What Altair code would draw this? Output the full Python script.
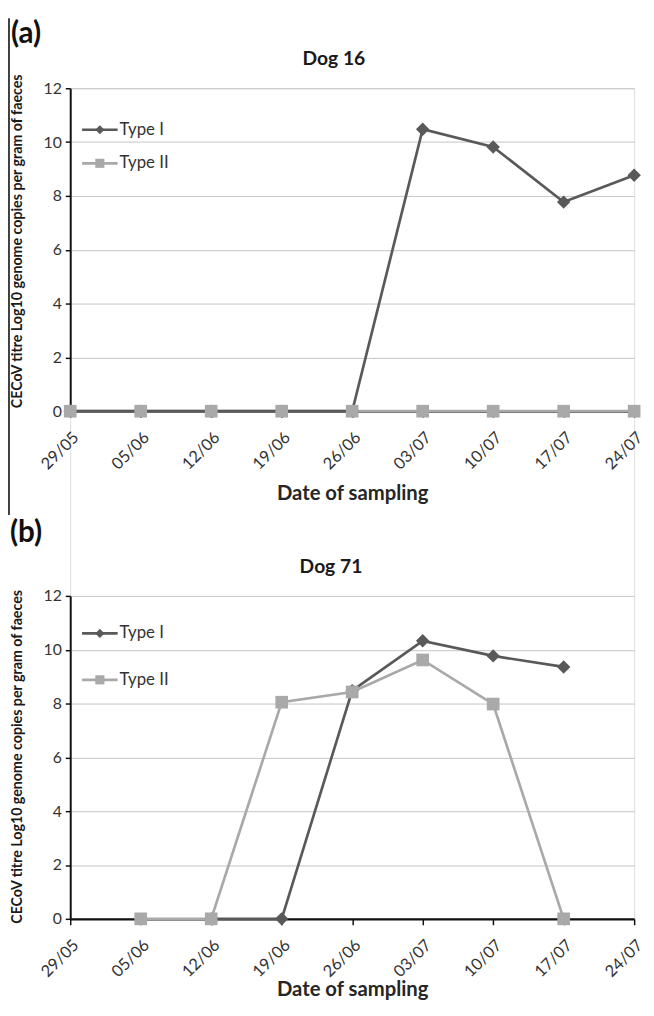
import altair as alt
import pandas as pd

# ---- data ----
dates = ["29/05", "05/06", "12/06", "19/06", "26/06", "03/07", "10/07", "17/07", "24/07"]
series_names = ["Type I", "Type II"]
y_ticks = [0, 2, 4, 6, 8, 10, 12]
panel_labels = ["(a)", "(b)"]
panel_titles = ["Dog 16", "Dog 71"]
y_title = "CECoV titre Log10 genome copies per gram of faeces"
x_title = "Date of sampling"

dog16_type1 = [0, 0, 0, 0, 0, 10.48, 9.82, 7.77, 8.77]
dog16_type2 = [0, 0, 0, 0, 0, 0, 0, 0, 0]
dog71_type1 = [None, None, 0, 0, 8.48, 10.33, 9.77, 9.36, None]
dog71_type2 = [None, 0, 0, 8.05, 8.43, 9.62, 7.98, 0, None]

# ---- styles / layout (pixels) ----
FONT = "Lato"
COL = {"Type I": "#595959", "Type II": "#a9a9a9"}
SHAPE = {"Type I": "diamond", "Type II": "square"}
SIZE = {"Type I": 185, "Type II": 165}
LEG_SIZE = {"Type I": 85, "Type II": 85}
W = 571          # plot width
PH = 327         # height of one panel's plot area
GAP = 187        # distance between the two plot areas
TOTAL_H = 2 * PH + GAP


def frame(values, name):
    rows = [{"date": d, "value": v, "series": name} for d, v in zip(dates, values) if v is not None]
    return pd.DataFrame(rows)


def text_layer(value, x, y, **style):
    return alt.Chart(pd.DataFrame({"t": [value]})).mark_text(font=FONT, **style).encode(
        x=alt.value(x), y=alt.value(y), text="t:N"
    )


def panel(idx, t1, t2, line_order, top, legend_y, label_xy, title_xy, ytitle_y, xtitle_y, border):
    data = {"Type I": frame(t1, "Type I"), "Type II": frame(t2, "Type II")}
    xe = alt.X(
        "date:O",
        scale=alt.Scale(type="point", domain=dates, padding=0),
        sort=dates,
        axis=alt.Axis(
            orient="bottom", offset=-(TOTAL_H - top - PH),
            title=x_title, labelAngle=315, labelFont=FONT, labelFontSize=16.5,
            labelColor="#333333", labelPadding=12, domainColor="#111111", domainWidth=2.2,
            tickColor="#111111", tickSize=6, tickWidth=1.5, grid=False,
            titleFont=FONT, titleFontSize=20.5, titleFontWeight="bold", titleColor="#262626",
            titleY=xtitle_y, titleBaseline="middle",
        ),
    )
    ye = alt.Y(
        "value:Q",
        scale=alt.Scale(domain=[0, 12], nice=False, zero=True, range=[top + PH, top]),
        axis=alt.Axis(
            orient="left", values=y_ticks, title=None,
            labelFont=FONT, labelFontSize=16, labelColor="#333333", labelPadding=4,
            domainColor="#111111", domainWidth=2, tickColor="#111111", tickSize=5,
            tickWidth=1.5, grid=True, gridColor="#c4c4c4", gridWidth=1,
        ),
    )
    layers = []
    if border:
        layers.append(
            alt.Chart(pd.DataFrame({"k": [0]})).mark_rule(color="#000000", strokeWidth=1.5).encode(
                x=alt.value(-62), y=alt.value(top - 71), y2=alt.value(top + 432)
            )
        )
    for s in line_order:
        layers.append(
            alt.Chart(data[s]).mark_line(color=COL[s], strokeWidth=2.7).encode(x=xe, y=ye)
        )
    for s in series_names:
        layers.append(
            alt.Chart(data[s]).mark_point(
                shape=SHAPE[s], filled=True, size=SIZE[s], color=COL[s], opacity=1
            ).encode(x=xe, y=ye)
        )
    # legend
    for s, ly in zip(series_names, legend_y):
        ldf = pd.DataFrame({"series": [s]})
        layers.append(
            alt.Chart(ldf).mark_rule(color=COL[s], strokeWidth=2.7).encode(
                x=alt.value(12), x2=alt.value(48), y=alt.value(top + ly)
            )
        )
        layers.append(
            alt.Chart(ldf).mark_point(
                shape=SHAPE[s], filled=True, size=LEG_SIZE[s], color=COL[s], opacity=1
            ).encode(x=alt.value(30), y=alt.value(top + ly))
        )
        layers.append(
            alt.Chart(ldf).mark_text(
                align="left", baseline="middle", font=FONT, fontSize=17, color="#333333"
            ).encode(x=alt.value(50), y=alt.value(top + ly), text="series:N")
        )
    # y title, panel letter and panel title
    layers.append(text_layer(y_title, -53, top + ytitle_y, angle=270, align="center",
                             baseline="middle", fontSize=14.4, fontWeight="bold",
                             color="#1a1a1a"))
    layers.append(text_layer(panel_labels[idx], label_xy[0], top + label_xy[1], align="left",
                             baseline="middle", fontSize=30, fontWeight="bold",
                             color="#111111"))
    layers.append(text_layer(panel_titles[idx], title_xy[0], top + title_xy[1], align="center",
                             baseline="middle", fontSize=19.5, fontWeight="bold",
                             color="#1a1a1a"))
    return alt.layer(*layers)


pa = panel(0, dog16_type1, dog16_type2, ["Type II", "Type I"], 0, [42, 76], (-60, -55),
           (267, -30), 155, 83, True)
pb = panel(1, dog71_type1, dog71_type2, ["Type I", "Type II"], PH + GAP, [38, 85], (-61, -64),
           (264, -29), 163, 72, False)

chart = (
    alt.layer(pa, pb)
    .resolve_scale(x="independent", y="independent")
    .resolve_axis(x="independent", y="independent")
    .properties(
        width=W, height=TOTAL_H,
        autosize=alt.AutoSizeParams(type="none"),
        padding={"left": 63, "top": 75, "right": 12, "bottom": 83},
    )
    .configure_view(stroke=None)
    .configure(background="white")
)

chart.save("out.html", embed_options={"renderer": "svg", "actions": False})
